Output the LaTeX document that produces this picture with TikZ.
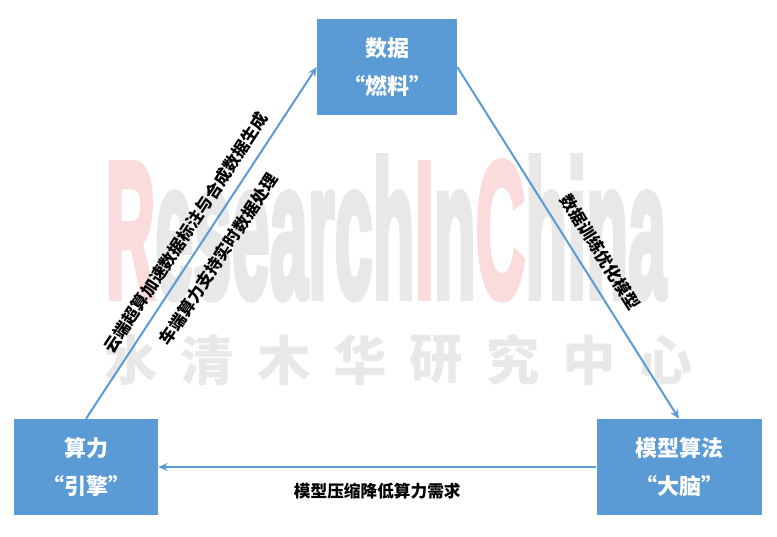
\documentclass[tikz,border=0pt]{standalone}
\usepackage{fontspec}
\setmainfont{Liberation Sans}
\newfontfamily\cjk{Noto Sans CJK SC}
\newfontfamily\wmfont[FakeBold=4]{Liberation Sans Bold}
\usetikzlibrary{arrows.meta}

\definecolor{boxblue}{HTML}{5B9BD5}
\definecolor{wmgray}{HTML}{E8E8E8}
\definecolor{wmpink}{HTML}{FADCDC}

\tikzset{
  block/.style={fill=boxblue, draw=none, text=white, align=center,
    font=\cjk\bfseries\fontsize{16.5}{28}\selectfont},
  link/.style={draw=boxblue, line width=1.5pt, -{Stealth[length=7pt,width=6pt]}},
  lab/.style={font=\cjk\bfseries\fontsize{12.5}{14}\selectfont, inner sep=0pt},
}

\begin{document}
\begin{tikzpicture}[x=0.75pt, y=-0.75pt]
  \useasboundingbox (0,0) rectangle (777,536);

  % watermark
  \node[anchor=base, xscale=0.355, inner sep=0pt,
        font=\wmfont\fontsize{145}{145}\selectfont, text=wmgray] (wm) at (386,297)
    {\textcolor{wmpink}{R}esearch\textcolor{wmpink}{I}n\textcolor{wmpink}{C}hina};
  \foreach \c [count=\i from 0] in {水,清,木,华,研,究,中,心}
    \node[font=\cjk\bfseries\fontsize{40}{40}\selectfont, text=wmgray] (wm\i) at (131+76.4*\i,360) {\c};

  % boxes
  \node[block, minimum width=105pt, minimum height=72pt] (data) at (387,67) {数据\\“燃料”};
  \node[block, minimum width=108pt, minimum height=72pt] (power) at (86,467) {算力\\“引擎”};
  \node[block, minimum width=123.75pt, minimum height=72pt] (model) at (679,467) {模型算法\\“大脑”};

  % cycle
  \draw[link] (power.north) -- (data.west)
    node[lab, sloped, pos=0.5, above=7pt] (lup) {云端超算加速数据标注与合成数据生成}
    node[lab, sloped, pos=0.49, below=10.5pt] (ldown) {车端算力支持实时数据处理};
  \draw[link] (data.east) -- (model.north)
    node[lab, sloped, pos=0.56, above=10pt] (rlab) {数据训练优化模型};
  \draw[link] (model.west) -- (power.east)
    node[lab, pos=0.5, below=11pt] (blab) {模型压缩降低算力需求};
\end{tikzpicture}
\end{document}
